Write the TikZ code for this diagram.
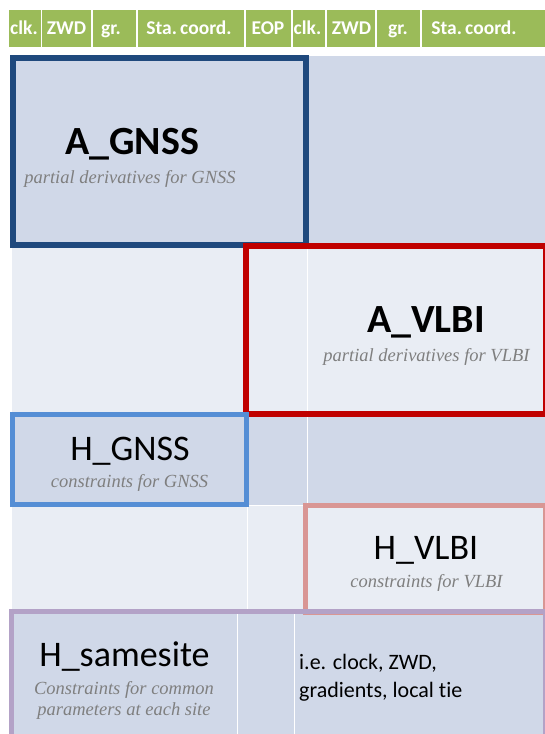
\documentclass[tikz,border=0pt]{standalone}
\usepackage{fontspec}
\setmainfont{Carlito}[Ligatures={NoCommon,NoRare,NoContextual}]
\newfontfamily\subfont{Liberation Serif}
\definecolor{hdrgreen}{HTML}{9BBB59}
\definecolor{banddark}{HTML}{D0D8E8}
\definecolor{bandlight}{HTML}{E9EDF4}
\definecolor{boxnavy}{HTML}{1F497D}
\definecolor{boxred}{HTML}{C00000}
\definecolor{boxsky}{HTML}{558ED5}
\definecolor{boxpink}{HTML}{D99694}
\definecolor{boxlilac}{HTML}{B3A2C7}
\definecolor{subgray}{HTML}{7F7F7F}
\begin{document}
\begin{tikzpicture}[x=1pt,y=-1pt,
  hdrcell/.style={fill=hdrgreen,draw=white,line width=1.5pt},
  hdrtext/.style={font=\fontsize{19.5}{22}\selectfont\bfseries,text=white,anchor=base,inner sep=0pt},
  bigtext/.style={font=\fontsize{40}{48}\selectfont\bfseries,anchor=base,inner sep=0pt},
  midtext/.style={font=\fontsize{36}{42}\selectfont,anchor=base,inner sep=0pt},
  subtext/.style={font=\subfont\itshape\fontsize{18.5}{21}\selectfont,text=subgray,anchor=base,inner sep=0pt},
  notetext/.style={font=\fontsize{22}{27}\selectfont,anchor=base west,inner sep=0pt},
  sep/.style={draw=white,line width=1pt},
  frame/.style={line width=#1pt,line join=miter}
]
\useasboundingbox (0,0) rectangle (545,734);
\fill[white] (0,0) rectangle (545,734);
\begin{scope}
\clip (0,0) rectangle (545,734);
% header
\foreach \a/\b in {8/41.5,41.5/92,92/137,137/245,245/292,292/326,326/376,376/421,421/560}
  \draw[hdrcell] (\a,9) rectangle (\b,48);
% body bands
\fill[banddark]  (12,56)  rectangle (560,246);
\fill[bandlight] (12,246) rectangle (560,414);
\fill[banddark]  (12,414) rectangle (560,505);
\fill[bandlight] (12,505) rectangle (560,611);
\fill[banddark]  (12,611) rectangle (560,760);
\draw[sep] (247,246) -- (247,611);
\draw[sep] (307,246) -- (307,611);
\draw[sep] (237,611) -- (237,760);
\draw[sep] (294,611) -- (294,760);
\foreach \yy in {246,414,505,611}
  \draw[sep] (12,\yy) -- (560,\yy);
% boxes
\draw[frame=6,draw=boxnavy] (13,58) rectangle (306,245);
\draw[frame=6,draw=boxred] (246,246) rectangle (545.5,414);
\draw[frame=5,draw=boxsky] (12.5,414.5) rectangle (246.5,504.5);
\draw[frame=5,draw=boxpink] (305.5,505.5) rectangle (545.5,612);
\draw[frame=5,draw=boxlilac] (11.5,611.5) rectangle (545.5,745);
\end{scope}
% header texts
\node[hdrtext] (h1) at (24,34) {clk.};
\node[hdrtext] (h2) at (66.5,34) {ZWD};
\node[hdrtext] (h3) at (111,34) {gr.};
\node[hdrtext] (h4) at (189,34) {Sta.\,coord.};
\node[hdrtext] (h5) at (268,34) {EOP};
\node[hdrtext] (h6) at (307.5,34) {clk.};
\node[hdrtext] (h7) at (351.5,34) {ZWD};
\node[hdrtext] (h8) at (398,34) {gr.};
\node[hdrtext] (h9) at (474,34) {Sta.\,coord.};
% box texts
\node[bigtext] (agnss) at (132,154) {A\_GNSS};
\node[subtext] (agnsssub) at (130,183) {partial derivatives for GNSS};
\node[bigtext] (avlbi) at (426,332) {A\_VLBI};
\node[subtext] (avlbisub) at (426.5,361) {partial derivatives for VLBI};
\node[midtext] (hgnss) at (130,460) {H\_GNSS};
\node[subtext] (hgnsssub) at (129.5,487) {constraints for GNSS};
\node[midtext] (hvlbi) at (426,559) {H\_VLBI};
\node[subtext] (hvlbisub) at (426.5,587) {constraints for VLBI};
\node[midtext] (hsame) at (124.5,666) {H\_samesite};
\node[subtext] (hsamesub1) at (124,694) {Constraints for common};
\node[subtext] (hsamesub2) at (124,715) {parameters at each site};
\node[notetext] (note1) at (299,669) {i.e. clock, ZWD,};
\node[notetext] (note2) at (299,697) {gradients, local tie};
\end{tikzpicture}
\end{document}
